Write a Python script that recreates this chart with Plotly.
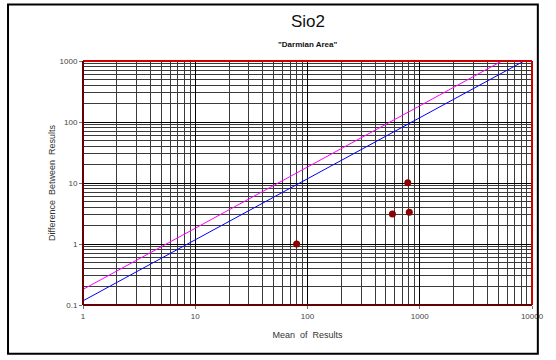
import plotly.graph_objects as go

# measured pairs (mean of results, difference between results)
mean_vals = [80, 571, 782, 807]
diff_vals = [1.0, 3.1, 10.1, 3.3]

blue_x = [1, 8500]
blue_y = [0.117, 1000]
magenta_x = [1, 5400]
magenta_y = [0.18, 1000]

x_ticks = [1, 10, 100, 1000, 10000]
y_ticks = [0.1, 1, 10, 100, 1000]

FONT = "Liberation Sans, Arial, sans-serif"

fig = go.Figure()
fig.add_trace(go.Scatter(x=magenta_x, y=magenta_y, mode="lines",
                         line=dict(color="#ff00ff", width=1), showlegend=False))
fig.add_trace(go.Scatter(x=blue_x, y=blue_y, mode="lines",
                         line=dict(color="#0000ff", width=1), showlegend=False))
fig.add_trace(go.Scatter(x=mean_vals, y=diff_vals, mode="markers",
                         marker=dict(color="#8b0000", size=7), showlegend=False))

axis_common = dict(
    type="log", showgrid=True, gridcolor="#000000", gridwidth=1,
    minor=dict(dtick="D1", showgrid=True, gridcolor="#3a3a3a", gridwidth=1, ticks=""),
    ticks="outside", ticklen=3, tickcolor="#777", zeroline=False, showline=False,
    tickfont=dict(family=FONT, size=8, color="#444"),
)
fig.update_xaxes(range=[0, 4], tickvals=x_ticks, ticktext=[str(v) for v in x_ticks],
                 title=dict(text="Mean  of  Results", font=dict(family=FONT, size=9, color="#333"),
                            standoff=12), **axis_common)
fig.update_yaxes(range=[-1, 3], tickvals=y_ticks, ticktext=[str(v) for v in y_ticks],
                 title=dict(text="Difference  Between  Results",
                            font=dict(family=FONT, size=9, color="#333"), standoff=2),
                 **axis_common)

# plot-area frame: red top/right, maroon left/bottom
fig.add_shape(type="line", xref="paper", yref="paper", x0=0, x1=1, y0=1, y1=1,
              line=dict(color="#cc0000", width=2))
fig.add_shape(type="line", xref="paper", yref="paper", x0=1, x1=1, y0=0, y1=1,
              line=dict(color="#cc0000", width=2))
fig.add_shape(type="line", xref="paper", yref="paper", x0=0, x1=0, y0=0, y1=1,
              line=dict(color="#660000", width=2))
fig.add_shape(type="line", xref="paper", yref="paper", x0=0, x1=1, y0=0, y1=0,
              line=dict(color="#660000", width=2))
# outer chart border
fig.add_shape(type="rect", xref="paper", yref="paper", x0=-0.167, x1=1.013,
              y0=-0.2, y1=1.232, line=dict(color="#000000", width=2))

fig.add_annotation(text="Sio2", xref="paper", yref="paper", x=0.5, y=1.16, yanchor="middle",
                   showarrow=False, font=dict(family=FONT, size=17, color="#111"))
fig.add_annotation(text='<b>"Darmian Area"</b>', xref="paper", yref="paper", x=0.5, y=1.066,
                   yanchor="middle", showarrow=False, font=dict(family=FONT, size=8, color="#111"))

fig.update_layout(
    width=556, height=360, margin=dict(l=83, r=13, t=61, b=55),
    paper_bgcolor="white", plot_bgcolor="white",
)
# drop the default 8px page margin so the chart sits at the window's corner
fig.write_html("out.html", config={"displayModeBar": False},
               post_script="document.body.style.margin='0';")
